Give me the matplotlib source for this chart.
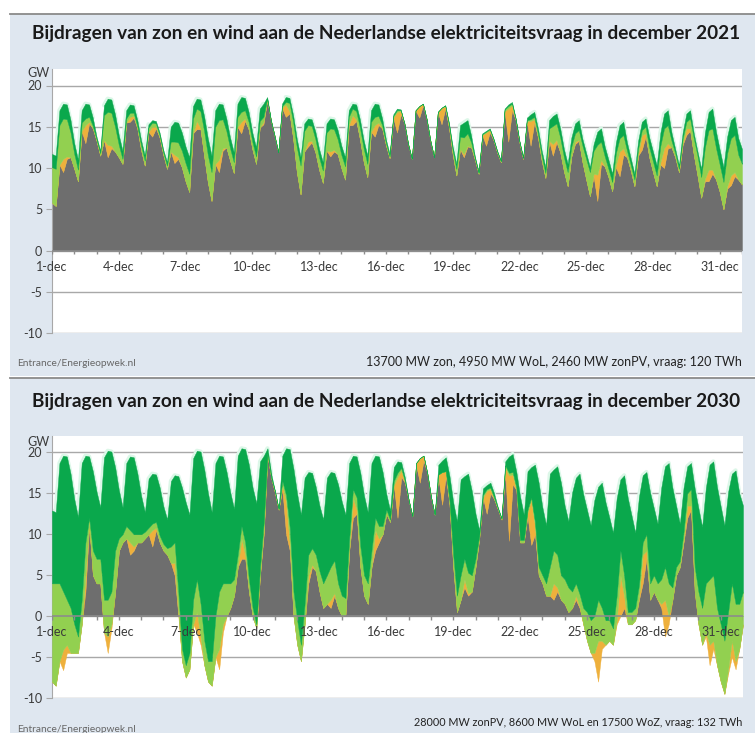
import numpy as np
import matplotlib
matplotlib.use("Agg")
import matplotlib.pyplot as plt
from matplotlib.lines import Line2D
from matplotlib.patches import Rectangle

plt.rcParams['font.family'] = ['Lato', 'DejaVu Sans']

# ---------------- data ----------------
HOURS = [0, 4, 8, 12, 16, 20]          # sample hours within each day
DAY_TICKS = [0, 3, 6, 9, 12, 15, 18, 21, 24, 27, 30]
DAY_LABELS = ["1-dec", "4-dec", "7-dec", "10-dec", "13-dec", "16-dec",
              "19-dec", "22-dec", "25-dec", "28-dec", "31-dec"]
YTICKS = [-10, -5, 0, 5, 10, 15, 20]

TITLE_2021 = "Bijdragen van zon en wind aan de Nederlandse elektriciteitsvraag in december 2021"
TITLE_2030 = "Bijdragen van zon en wind aan de Nederlandse elektriciteitsvraag in december 2030"
FOOT_2021 = "13700 MW zon, 4950 MW WoL, 2460 MW zonPV, vraag: 120 TWh"
FOOT_2030 = "28000 MW zonPV, 8600 MW WoL en 17500 WoZ, vraag: 132 TWh"
SOURCE = "Entrance/Energieopwek.nl"

# 2021: demand (vraag), offshore wind (WoZ), onshore wind (WoL), solar (zon) in GW
VRAAG_2021 = [
    [11.7, 11.5, 17.0, 17.8, 17.7, 15.8], [13.0, 11.0, 17.0, 17.8, 17.7, 16.1],
    [13.8, 12.1, 17.6, 18.4, 18.3, 16.5], [14.0, 12.1, 17.0, 17.7, 17.6, 15.8],
    [13.4, 11.5, 15.3, 15.8, 15.7, 14.3], [12.2, 10.7, 15.0, 15.6, 15.5, 14.3],
    [12.6, 11.3, 17.5, 18.4, 18.3, 16.3], [13.6, 11.5, 17.0, 17.8, 17.7, 16.0],
    [13.7, 11.9, 17.8, 18.6, 18.5, 16.8], [14.3, 12.5, 17.2, 17.8, 18.6, 15.8],
    [13.9, 11.9, 17.8, 18.6, 18.5, 16.4], [13.5, 11.3, 15.4, 16.0, 15.9, 14.4],
    [12.3, 10.7, 15.4, 16.0, 15.9, 14.6], [12.7, 11.3, 17.0, 17.8, 17.7, 15.9],
    [13.4, 11.5, 17.0, 17.8, 17.7, 16.0], [13.5, 11.7, 16.5, 17.2, 17.1, 15.4],
    [12.9, 11.1, 17.0, 17.5, 17.8, 15.9], [13.3, 11.3, 16.8, 17.3, 17.6, 15.5],
    [12.6, 10.5, 15.2, 15.5, 15.8, 13.9], [11.4, 9.5, 14.2, 14.5, 14.8, 13.6],
    [12.1, 10.9, 17.2, 17.7, 18.0, 16.0], [13.3, 11.3, 16.1, 16.5, 16.8, 14.8],
    [12.1, 10.1, 15.8, 16.3, 16.6, 14.8], [12.3, 10.5, 13.7, 15.4, 15.8, 13.5],
    [11.8, 10.1, 12.9, 14.4, 14.8, 12.6], [11.0, 9.3, 13.1, 15.2, 15.6, 13.1],
    [11.2, 9.3, 13.3, 15.6, 16.0, 13.7], [12.0, 10.3, 14.3, 16.6, 17.0, 14.3],
    [12.3, 10.3, 14.3, 16.6, 17.0, 14.2], [12.0, 9.9, 14.3, 16.8, 17.2, 14.4],
    [12.2, 10.1, 13.8, 15.8, 16.2, 13.6]]
VRAAG_2021_END = 12.3
WOZ_2021 = [
    [1.6, 1.6, 1.8, 1.8, 1.8, 1.5], [1.3, 1.2, 1.5, 1.8, 1.5, 1.0],
    [0.3, 0.3, 1.2, 1.6, 1.6, 1.5], [1.2, 1.0, 1.0, 1.0, 0.9, 0.7],
    [0.6, 0.6, 0.4, 0.3, 0.3, 0.3], [0.3, 0.4, 1.8, 2.4, 2.4, 2.2],
    [2.0, 2.0, 1.5, 1.2, 1.4, 1.8], [2.0, 2.0, 2.0, 2.0, 1.8, 1.5],
    [1.3, 1.2, 1.6, 1.8, 1.5, 1.2], [1.1, 1.1, 1.5, 1.6, 0.2, 0.0],
    [0.0, 0.0, 0.3, 0.6, 0.6, 0.8], [1.0, 1.0, 0.9, 0.8, 0.8, 0.9],
    [1.0, 1.0, 1.1, 1.2, 1.2, 1.1], [1.1, 1.1, 0.8, 0.6, 0.8, 1.0],
    [1.0, 1.0, 1.4, 1.6, 1.4, 0.8], [0.4, 0.3, 0.2, 0.2, 0.1, 0.0],
    [0.0, 0.0, 0.0, 0.0, 0.0, 0.0], [0.0, 0.0, 0.0, 0.0, 0.0, 0.2],
    [0.4, 0.6, 1.4, 1.8, 1.6, 0.8], [0.2, 0.1, 0.1, 0.1, 0.1, 0.1],
    [0.1, 0.1, 0.1, 0.2, 0.2, 0.1], [0.1, 0.1, 0.3, 0.6, 0.6, 0.6],
    [0.6, 0.7, 1.0, 1.2, 1.2, 1.1], [1.0, 1.0, 1.1, 1.2, 1.2, 0.8],
    [0.7, 0.6, 0.8, 1.6, 1.6, 1.2], [1.1, 1.0, 1.3, 1.6, 1.6, 1.0],
    [0.8, 0.7, 0.9, 1.0, 1.0, 1.2], [1.2, 1.2, 1.6, 1.8, 1.8, 1.0],
    [0.5, 0.4, 0.7, 1.0, 1.0, 0.6], [0.5, 1.0, 1.8, 2.2, 2.4, 2.0],
    [1.8, 1.8, 2.0, 2.2, 2.2, 2.0]]
WOZ_2021_END = 1.8
WOL_2021 = [
    [4.3, 4.5, 4.8, 4.9, 4.5, 3.0], [1.8, 1.4, 1.0, 0.8, 0.6, 0.3],
    [0.2, 0.3, 3.0, 4.0, 4.0, 3.0], [1.5, 0.6, 0.5, 0.5, 0.4, 0.3],
    [0.6, 0.6, 0.5, 0.5, 0.4, 0.3], [0.3, 0.4, 1.2, 1.6, 1.8, 2.0],
    [2.2, 2.2, 1.8, 1.5, 2.0, 3.0], [3.3, 3.5, 4.5, 4.8, 3.5, 2.0],
    [1.5, 1.3, 1.2, 1.2, 1.0, 0.9], [0.9, 0.9, 0.8, 0.6, 0.1, 0.0],
    [0.0, 0.0, 0.2, 0.3, 1.0, 2.0], [3.0, 3.5, 2.5, 2.0, 1.8, 1.6],
    [1.5, 1.5, 2.2, 2.8, 2.5, 1.8], [1.6, 1.6, 1.0, 0.8, 1.0, 1.4],
    [1.6, 1.6, 1.2, 1.0, 0.8, 0.4], [0.3, 0.2, 0.2, 0.2, 0.1, 0.0],
    [0.0, 0.0, 0.0, 0.0, 0.0, 0.0], [0.0, 0.0, 0.0, 0.0, 0.1, 0.4],
    [0.5, 0.8, 1.5, 2.0, 1.5, 0.6], [0.2, 0.1, 0.1, 0.1, 0.1, 0.1],
    [0.1, 0.1, 0.2, 0.3, 0.2, 0.1], [0.1, 0.1, 0.1, 0.2, 0.3, 0.5],
    [0.6, 0.6, 1.5, 2.2, 2.0, 1.8], [1.7, 1.7, 1.2, 1.0, 1.2, 2.0],
    [2.5, 2.9, 2.8, 3.6, 2.2, 1.2], [1.0, 1.1, 1.4, 1.6, 1.6, 0.8],
    [0.7, 0.8, 0.7, 0.6, 0.8, 1.2], [1.3, 1.3, 2.0, 2.4, 2.2, 0.8],
    [0.5, 0.4, 0.6, 0.8, 1.2, 2.0], [2.4, 2.5, 3.8, 4.8, 5.0, 3.8],
    [3.3, 3.3, 4.0, 4.5, 4.5, 3.0]]
WOL_2021_END = 2.5
ZON_2021 = [
    [0, 0, 0, 1.6, 0.3, 0], [0, 0, 0, 2.2, 0.2, 0], [0, 0, 0, 1.5, 0.3, 0],
    [0, 0, 0, 0.6, 0.2, 0], [0, 0, 0, 1.2, 0.2, 0], [0, 0, 0, 1.0, 0.2, 0],
    [0, 0, 0, 1.0, 0.2, 0], [0, 0, 0, 1.5, 0.3, 0], [0, 0, 0, 1.4, 0.3, 0],
    [0, 0, 0, 0.3, 0.1, 0], [0, 0, 0, 1.5, 0.3, 0], [0, 0, 0, 0.6, 0.2, 0],
    [0, 0, 0, 0.6, 0.2, 0], [0, 0, 0, 1.2, 0.2, 0], [0, 0, 0, 1.4, 0.3, 0],
    [0, 0, 0, 2.5, 0.4, 0], [0, 0, 0, 1.4, 0.2, 0], [0, 0, 0, 2.0, 0.3, 0],
    [0, 0, 0, 0.4, 0.1, 0], [0, 0, 0, 1.6, 0.3, 0], [0, 0, 0, 4.0, 0.6, 0],
    [0, 0, 0, 3.0, 0.4, 0], [0, 0, 0, 1.4, 0.3, 0], [0, 0, 0, 0.3, 0.1, 0],
    [0, 0, 0.3, 3.2, 0.5, 0], [0, 0, 0.3, 3.0, 0.8, 0], [0, 0, 0.2, 1.8, 0.4, 0],
    [0, 0, 0.3, 2.4, 0.6, 0], [0, 0, 0.2, 0.8, 0.3, 0], [0, 0, 0.3, 1.4, 0.5, 0],
    [0, 0, 0.3, 1.2, 0.5, 0]]
ZON_2021_END = 0.0

# 2030
VRAAG_2030 = [
    [12.9, 12.7, 18.7, 19.6, 19.5, 17.4], [14.3, 12.1, 18.7, 19.6, 19.5, 17.7],
    [15.2, 13.3, 19.4, 20.2, 20.1, 18.2], [15.4, 13.3, 18.7, 19.5, 19.4, 17.4],
    [14.7, 12.7, 16.8, 17.4, 17.3, 15.7], [13.4, 11.8, 16.5, 17.2, 17.1, 15.7],
    [13.9, 12.4, 19.3, 20.2, 20.1, 17.9], [15.0, 12.7, 18.7, 19.6, 19.5, 17.6],
    [15.1, 13.1, 19.6, 20.5, 20.4, 18.5], [15.7, 13.8, 18.9, 19.6, 20.5, 17.4],
    [15.3, 13.1, 19.6, 20.5, 20.4, 18.0], [14.9, 12.4, 16.9, 17.6, 17.5, 15.8],
    [13.5, 11.8, 16.9, 17.6, 17.5, 16.1], [14.0, 12.4, 18.7, 19.6, 19.5, 17.5],
    [14.7, 12.7, 18.7, 19.6, 19.5, 17.6], [14.9, 12.9, 18.2, 18.9, 18.8, 16.9],
    [14.2, 12.2, 18.7, 19.3, 19.6, 17.5], [14.6, 12.4, 18.5, 19.0, 19.4, 17.1],
    [13.9, 11.6, 16.7, 17.1, 17.4, 15.3], [12.5, 10.5, 15.6, 16.0, 16.3, 15.0],
    [13.3, 12.0, 18.9, 19.5, 19.8, 17.6], [14.6, 12.4, 17.7, 18.2, 18.5, 16.3],
    [13.3, 11.1, 17.4, 17.9, 18.3, 16.3], [13.5, 11.6, 15.1, 16.9, 17.4, 14.9],
    [13.0, 11.1, 14.2, 15.8, 16.3, 13.9], [12.1, 10.2, 14.4, 16.7, 17.2, 14.4],
    [12.3, 10.2, 14.6, 17.2, 17.6, 15.1], [13.2, 11.3, 15.7, 18.3, 18.7, 15.7],
    [13.5, 11.3, 15.7, 18.3, 18.7, 15.6], [13.2, 10.9, 15.7, 18.5, 18.9, 15.8],
    [13.4, 11.1, 15.2, 17.4, 17.8, 15.0]]
VRAAG_2030_END = 13.5
WOZ_2030 = [
    [8.9, 8.7, 14.7, 16.6, 17.5, 16.4], [15.3, 14.6, 16.7, 10.6, 7.5, 9.7],
    [8.2, 6.3, 17.4, 18.2, 17.1, 10.2], [5.9, 3.3, 7.7, 9.0, 9.4, 7.4],
    [4.7, 2.4, 6.0, 6.1, 5.8, 5.9], [4.6, 3.5, 8.0, 8.2, 14.1, 19.7],
    [19.9, 16.9, 17.3, 15.7, 18.6, 20.9], [20.5, 18.2, 18.7, 16.6, 15.5, 13.6],
    [11.1, 8.6, 12.1, 9.5, 11.4, 14.0], [14.7, 14.8, 12.9, 8.1, 0.6, 0.5],
    [0.0, 0.0, 3.1, 5.7, 9.6, 15.0], [15.4, 15.9, 15.4, 10.1, 9.2, 8.3],
    [8.0, 7.8, 11.9, 11.6, 10.7, 12.1], [11.5, 10.2, 9.2, 4.1, 5.0, 9.0],
    [9.7, 8.7, 10.7, 7.6, 8.5, 6.6], [1.9, 1.1, 1.7, 1.4, 0.7, 0.4],
    [0.0, 0.0, 0.0, 0.0, 0.0, 0.0], [0.0, 0.0, 1.2, 1.4, 1.7, 3.0],
    [6.4, 9.1, 11.7, 10.1, 12.1, 10.3], [5.5, 0.7, 0.8, 0.5, 0.6, 0.5],
    [0.1, 0.1, 0.5, 2.0, 2.2, 1.9], [5.3, 3.1, 4.7, 3.7, 7.0, 10.3],
    [8.3, 7.1, 11.4, 9.9, 10.8, 11.3], [9.0, 8.1, 12.1, 12.9, 14.7, 13.9],
    [12.5, 11.6, 14.2, 13.8, 15.3, 14.4], [12.6, 11.7, 11.9, 8.7, 12.2, 13.9],
    [11.8, 9.2, 10.8, 8.2, 7.6, 11.1], [8.2, 7.3, 11.2, 12.3, 14.7, 12.2],
    [7.5, 4.6, 5.4, 3.3, 3.2, 9.6], [10.2, 9.9, 11.7, 14.0, 13.9, 14.8],
    [14.4, 14.1, 14.7, 13.4, 16.3, 13.5]]
WOZ_2030_END = 10.5
WOL_2030 = [
    [12.0, 12.5, 9.5, 7.1, 5.5, 5.5], [3.5, 2.0, 3.0, 4.0, 0.7, 3.0],
    [3.0, 3.0, 4.0, 4.5, 4.0, 5.0], [1.5, 1.0, 1.5, 1.5, 1.5, 1.0],
    [1.0, 0.8, 0.8, 0.8, 0.7, 0.8], [0.8, 0.8, 2.0, 2.5, 2.5, 1.5],
    [1.5, 2.0, 3.0, 4.0, 4.0, 3.0], [2.5, 3.0, 5.0, 7.0, 5.0, 4.0],
    [3.0, 2.0, 1.5, 1.5, 1.5, 1.5], [1.0, 0.5, 1.0, 1.0, 0.2, 0.0],
    [0.2, 0.1, 0.5, 0.8, 2.0, 3.0], [3.0, 2.0, 2.5, 2.5, 2.0, 2.0],
    [2.5, 3.0, 3.5, 4.0, 4.0, 3.0], [2.5, 2.0, 1.5, 1.0, 1.5, 2.5],
    [2.5, 2.5, 2.0, 1.5, 1.5, 1.0], [0.5, 0.3, 0.5, 0.5, 0.3, 0.2],
    [0.0, 0.0, 0.0, 0.0, 0.0, 0.0], [0.0, 0.0, 0.0, 0.0, 0.0, 0.5],
    [1.5, 2.0, 3.0, 2.5, 2.5, 2.0], [1.0, 0.3, 0.3, 0.2, 0.2, 0.2],
    [0.1, 0.1, 0.3, 0.3, 0.3, 0.3], [0.3, 0.3, 0.3, 0.3, 0.5, 1.0],
    [1.0, 1.5, 3.5, 4.0, 4.0, 3.0], [3.0, 3.0, 2.0, 1.5, 1.5, 2.0],
    [3.5, 4.0, 4.5, 5.0, 4.0, 3.0], [2.5, 2.0, 3.0, 3.0, 2.5, 1.5],
    [1.5, 1.5, 1.5, 1.5, 2.0, 2.0], [2.0, 2.0, 3.0, 4.0, 4.0, 1.5],
    [1.0, 0.7, 1.0, 1.5, 2.0, 3.0], [4.0, 4.5, 6.0, 8.0, 8.0, 7.0],
    [7.0, 6.5, 7.0, 7.0, 7.0, 5.5]]
WOL_2030_END = 4.0
ZON_2030 = [
    [0, 0, 0, 2.5, 1.0, 0], [0, 0, 0, 2.0, 0.3, 0], [0, 0, 0, 2.0, 0.5, 0],
    [0, 0, 0, 1.5, 0.5, 0], [0, 0, 0, 2.0, 0.3, 0], [0, 0, 0, 1.5, 0.5, 0],
    [0, 0, 0, 2.5, 1.0, 0], [0, 0, 0, 2.5, 1.0, 0], [0, 0, 0, 2.5, 0.5, 0],
    [0, 0, 0, 0.5, 0.2, 0], [0, 0, 0.5, 4.0, 0.8, 0], [0, 0, 0, 1.0, 0.3, 0],
    [0, 0, 0, 1.0, 0.3, 0], [0, 0, 0, 2.5, 0.5, 0], [0, 0, 0, 2.5, 0.5, 0],
    [0, 0, 0, 5.0, 0.8, 0], [0, 0, 0.2, 3.0, 0.6, 0], [0, 0, 0.3, 4.0, 0.6, 0],
    [0, 0, 0, 1.0, 0.3, 0], [0, 0, 0, 2.8, 0.5, 0], [0, 0, 0.5, 8.0, 1.2, 0],
    [0, 0, 0.5, 5.5, 1.0, 0], [0, 0, 0, 2.0, 0.5, 0], [0, 0, 0, 0.5, 0.2, 0],
    [0, 0, 1.0, 5.0, 1.0, 0], [0, 0, 0.5, 5.0, 1.5, 0], [0, 0, 0.3, 3.5, 1.0, 0],
    [0, 0, 0.5, 4.5, 1.0, 0], [0, 0, 0.3, 1.5, 0.5, 0], [0, 0, 0.5, 2.5, 1.0, 0],
    [0, 0, 0.5, 2.0, 1.0, 0]]
ZON_2030_END = 0.0

# ---------------- styling ----------------
C_GRAY = '#6e6e6e'
C_ZON = '#eeb03c'
C_WOL = '#92d050'
C_WOZ = '#0aa84c'
C_HALO = '#dcf7e8'
C_PANEL = '#dfe7f0'
C_GRID = '#a8a8a8'
C_AXIS = '#8c8c8c'
C_TEXT = '#3a3a3a'

W, H = 755, 733


def fx(x):
    return x / W


def fy(y):
    return 1 - y / H


t = np.array([d + h / 24 for d in range(31) for h in HOURS] + [31.0])


def flat(rows, end):
    return np.array([v for row in rows for v in row] + [end], dtype=float)


fig = plt.figure(figsize=(W / 100, H / 100), dpi=100)
fig.patch.set_facecolor('white')

# panel backgrounds + separator lines
for top, bot in [(14, 376), (378, 733)]:
    fig.add_artist(Rectangle((fx(10), fy(bot)), fx(W) - fx(10), fy(top) - fy(bot),
                             transform=fig.transFigure, facecolor=C_PANEL,
                             edgecolor='none', zorder=0))
    fig.add_artist(Line2D([fx(10), 1.0], [fy(top), fy(top)], transform=fig.transFigure,
                          color='#8a8a8a', lw=1.3, zorder=1))


def panel(rect, vraag, woz, wol, zon, title, foot, title_y, gw_y, src_y, foot_y, foot_size):
    ax = fig.add_axes(rect)
    ax.set_facecolor('white')
    D = flat(*vraag)
    Z = flat(*woz)
    L = flat(*wol)
    S = flat(*zon)
    R = D - Z - L - S
    halo = np.where(Z > 0.3, D, np.nan)
    ax.plot(t, halo, color=C_HALO, lw=3, zorder=1.5, solid_capstyle='round')
    kw = dict(linewidth=0.3)
    ax.fill_between(t, 0, np.clip(R, 0, None), facecolor=C_GRAY, edgecolor=C_GRAY, zorder=2, **kw)
    ax.fill_between(t, R, R + S, facecolor=C_ZON, edgecolor=C_ZON, zorder=3, **kw)
    ax.fill_between(t, R + S, R + S + L, facecolor=C_WOL, edgecolor=C_WOL, zorder=3, **kw)
    ax.fill_between(t, R + S + L, D, facecolor=C_WOZ, edgecolor=C_WOZ, zorder=3, **kw)

    ax.set_xlim(0, 31)
    ax.set_ylim(-10, 22)
    for y in YTICKS:
        ax.axhline(y, color=C_GRID, lw=1.0, zorder=1)
    ax.axhline(0, color=C_AXIS, lw=1.2, zorder=5)
    ax.vlines(np.arange(32), -0.45, 0, color=C_AXIS, lw=1.0, zorder=5)
    for d, lab in zip(DAY_TICKS, DAY_LABELS):
        ax.text(d, -2.0, lab, ha='center', va='center', fontsize=9, color=C_TEXT, zorder=6)

    for s in ['top', 'right', 'bottom']:
        ax.spines[s].set_visible(False)
    ax.spines['left'].set_color(C_GRID)
    ax.set_xticks([])
    ax.set_yticks(YTICKS)
    ax.set_yticklabels([str(v) for v in YTICKS])
    ax.tick_params(axis='y', length=4, color=C_GRID, labelsize=9, labelcolor=C_TEXT, pad=3)

    fig.text(fx(32), fy(title_y), title, ha='left', va='center', fontsize=13.7,
             fontweight='bold', color='#1a1a1a')
    fig.text(fx(38), fy(gw_y), 'GW', ha='center', va='center', fontsize=9, color=C_TEXT)
    fig.text(fx(17), fy(src_y), SOURCE, ha='left', va='center', fontsize=7.3, color='#666666')
    fig.text(fx(742), fy(foot_y), foot, ha='right', va='center', fontsize=foot_size, color='#222222')
    return ax


panel([fx(52), fy(333), fx(742) - fx(52), fy(69) - fy(333)],
      (VRAAG_2021, VRAAG_2021_END), (WOZ_2021, WOZ_2021_END),
      (WOL_2021, WOL_2021_END), (ZON_2021, ZON_2021_END),
      TITLE_2021, FOOT_2021, 33, 73, 364, 362, 9.0)
panel([fx(52), fy(698), fx(743) - fx(52), fy(436) - fy(698)],
      (VRAAG_2030, VRAAG_2030_END), (WOZ_2030, WOZ_2030_END),
      (WOL_2030, WOL_2030_END), (ZON_2030, ZON_2030_END),
      TITLE_2030, FOOT_2030, 402, 442, 729, 722, 7.8)

fig.savefig('out.png', dpi=100, facecolor='white')
